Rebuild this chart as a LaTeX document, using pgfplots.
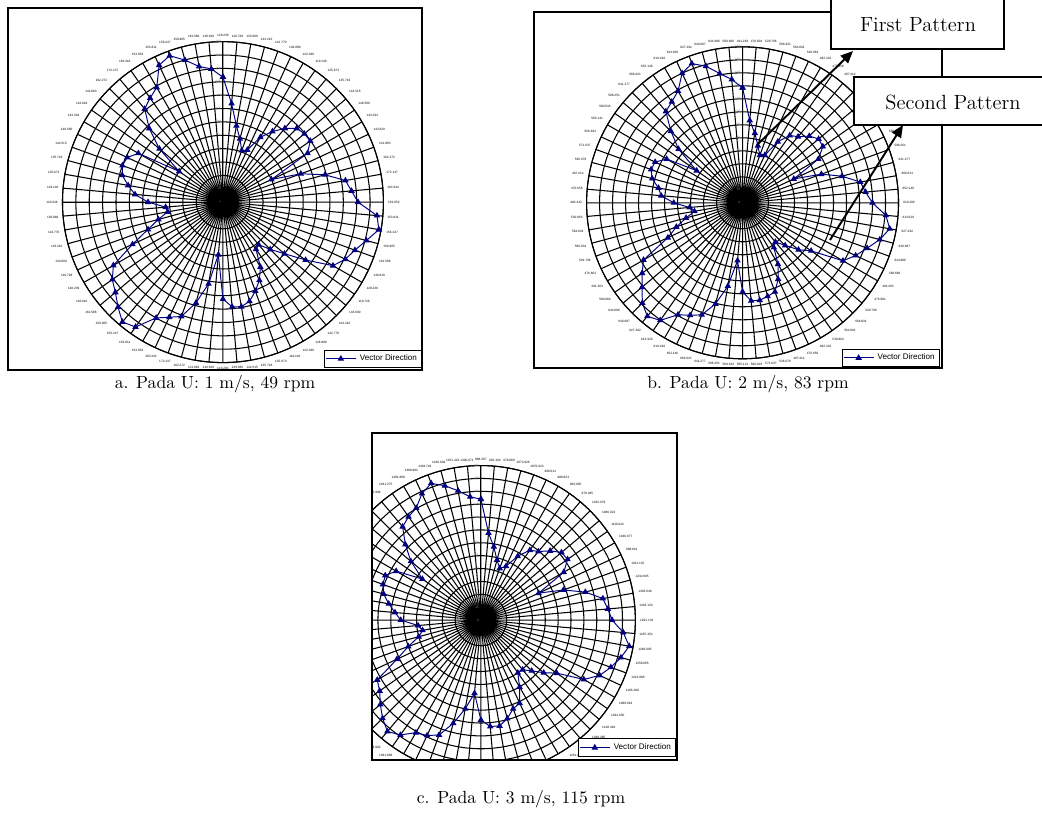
\documentclass[border=0pt]{standalone}
\usepackage{pgfplots}
\pgfplotsset{compat=1.18}
\usepgfplotslibrary{polar}
\usetikzlibrary{arrows.meta}
\usepackage{fontspec}
\newfontfamily\arialfont{Liberation Sans}
\definecolor{navy}{RGB}{0,0,128}
\pgfplotsset{
  radar/.style={
    scale only axis, anchor=center,
    xmin=90, xmax=450, ymin=0, ymax=12,
    xtick={90,95,...,445},
    ytick={0,1,...,12},
    yticklabels={0,15,30,45,60,75,90,105,120,135,150,165,180},
    grid=major,
    major grid style={black, line width=0.6pt},
    axis line style={black, line width=0.6pt},
    major tick length=0pt,
    xticklabel style={font=\arialfont\fontsize{1.8}{2}\selectfont, inner sep=2.5pt},
    yticklabel style={font=\arialfont\fontsize{1.8}{2}\selectfont, gray, inner sep=1pt},
    legend cell align=left,
    legend style={font=\arialfont\fontsize{4.6}{5.5}\selectfont, draw=black, line width=0.5pt,
      inner sep=0.6pt, anchor=south east},
  },
  vd/.style={navy, line width=0.55pt, mark=triangle*, mark size=1.6pt,
    mark options={solid, fill=navy}},
}
\begin{document}
\begin{tikzpicture}[x=0.02cm,y=0.02cm]
\useasboundingbox (0,0) rectangle (1042,819);
% ---------------- chart a ----------------
\begin{polaraxis}[radar, width=6.42cm, height=6.42cm, at={(4.46cm,12.34cm)},
  legend style={at={(1.12,-0.017)}},
  extra x ticks={180}, extra x tick labels={},
  extra x tick style={grid style={gray, line width=1.3pt}},
  xticklabels={128.236,146.610,161.586,159.905,156.247,153.811,154.652,163.344,172.137,162.272,141.863,142.629,143.294,149.580,144.515,135.718,125.673,119.140,122.046,136.889,142.770,143.210,133.609,119.728,
  128.236,146.610,161.586,159.905,156.247,153.811,154.652,163.344,172.137,162.272,141.863,142.629,143.294,149.580,144.515,135.718,125.673,119.140,122.046,136.889,142.770,143.210,133.609,119.728,
  128.236,146.610,161.586,159.905,156.247,153.811,154.652,163.344,172.137,162.272,141.863,142.629,143.294,149.580,144.515,135.718,125.673,119.140,122.046,136.889,142.770,143.210,133.609,119.728}]
\addplot[vd] coordinates {
(90,9.35)(95,10.0)(100,10.3)(105,11.0)(110,11.65)(115,11.3)(120,9.9)(125,9.5)(130,9.1)(135,7.8)(140,6.2)(145,4.0)
(150,7.3)(155,7.9)(160,8.0)(165,7.8)(170,7.2)(175,6.6)(180,5.6)(185,4.3)(190,4.2)(195,5.0)(200,5.96)(205,7.46)
(210,9.46)(215,10.1)(220,10.5)(225,11.1)(230,11.7)(235,11.4)(240,10.0)(245,9.5)(250,9.1)(255,7.8)(260,6.2)(265,3.95)
(270,7.25)(275,7.86)(280,7.94)(285,7.68)(290,7.08)(295,6.45)(300,5.6)(305,4.3)(310,4.15)(315,5.0)(320,6.0)(325,7.55)
(330,9.5)(335,10.1)(340,10.5)(345,11.1)(350,11.84)(355,11.56)(360,10.1)(365,9.65)(370,9.3)(375,7.9)(380,6.2)(385,4.0)
(390,7.3)(395,7.97)(400,7.95)(405,7.8)(410,7.2)(415,6.45)(420,5.6)(425,4.3)(430,4.1)(435,4.9)(440,5.8)(445,7.4)(450,9.35)};
\addlegendentry{Vector Direction}
\end{polaraxis}
\draw[line width=0.7pt] (8,811) rectangle (422,449);
\node[font=\fontsize{10}{12}\selectfont] at (215,435) {a. Pada U: 1 m/s, 49 rpm};
% ---------------- chart b ----------------
\begin{polaraxis}[radar, width=6.24cm, height=6.24cm, at={(14.854cm,12.326cm)},
  legend style={at={(1.132,-0.027)}},
  xticklabels={491.263,580.666,644.686,640.687,627.292,613.929,619.199,652.146,666.021,641.277,596.251,580.543,565.141,560.823,571.637,536.076,497.414,470.656,482.432,530.863,564.691,566.831,529.706,476.801,
  491.263,580.666,644.686,640.687,627.292,613.929,619.199,652.146,666.021,641.277,596.251,580.543,565.141,560.823,571.637,536.076,497.414,470.656,482.432,530.863,564.691,566.831,529.706,476.801,
  491.263,580.666,644.686,640.687,627.292,613.929,619.199,652.146,666.021,641.277,596.251,580.543,565.141,560.823,571.637,536.076,497.414,470.656,482.432,530.863,564.691,566.831,529.706,476.801}]
\addplot[vd] coordinates {
(90,8.85)(95,9.53)(100,10.1)(105,10.88)(110,11.4)(115,11.0)(120,9.93)(125,9.49)(130,9.18)(135,7.8)(140,6.43)(145,4.31)
(150,6.74)(155,7.42)(160,7.49)(165,7.2)(170,6.57)(175,6.29)(180,5.29)(185,4.09)(190,3.76)(195,4.5)(200,5.42)(205,6.34)
(210,8.8)(215,9.43)(220,10.1)(225,10.9)(230,11.4)(235,11.04)(240,9.94)(245,9.55)(250,9.17)(255,8.05)(260,6.5)(265,4.46)
(270,6.84)(275,7.57)(280,7.61)(285,7.45)(290,7.29)(295,6.48)(300,5.45)(305,4.2)(310,3.93)(315,4.63)(320,5.62)(325,6.44)
(330,8.92)(335,9.6)(340,10.2)(345,10.93)(350,11.5)(355,11.07)(360,9.99)(365,9.5)(370,9.2)(375,7.92)(380,6.45)(385,4.35)
(390,6.73)(395,7.54)(400,7.64)(405,7.26)(410,6.64)(415,6.33)(420,5.43)(425,4.05)(430,3.9)(435,4.55)(440,5.44)(445,6.36)(450,8.85)};
\addlegendentry{Vector Direction}
\end{polaraxis}
\draw[line width=0.7pt] (534,807) rectangle (942,451);
\node[font=\fontsize{10}{12}\selectfont] at (748,435) {b. Pada U: 2 m/s, 83 rpm};
% ---------------- chart c (cropped picture) ----------------
\begin{scope}
\clip (372,386) rectangle (677,59);
\begin{polaraxis}[radar, width=6.18cm, height=6.18cm, at={(9.62cm,3.98cm)},
  legend style={at={(1.131,0.057)}},
  xticklabels={988.267,1300.071,1451.423,1426.839,1403.749,1388.992,1381.868,1461.275,1405.996,1405.669,1294.030,1218.484,1288.385,1321.526,1261.071,1198.549,1173.234,1094.696,1079.713,1161.387,1262.968,1268.195,1167.087,1060.295,
  1089.618,1403.633,1405.936,1403.749,1388.992,1381.868,1461.275,1405.996,1405.669,1294.030,1218.484,1288.385,1268.195,1262.968,1161.387,1079.713,1094.696,1173.234,1198.549,1261.071,1321.526,1288.385,1218.484,1294.030,
  1089.618,1166.208,1213.086,1256.665,1266.695,1287.454,1291.133,1326.133,1303.048,1232.605,1011.135,988.619,1040.977,1116.042,1080.922,1032.979,978.285,960.905,988.623,998.012,1076.023,1072.926,978.888,926.160}]
\addplot[vd] coordinates {
(90,9.39)(95,9.61)(100,10.2)(105,10.8)(110,11.3)(115,10.84)(120,10.05)(125,9.8)(130,9.46)(135,8.3)(140,7.1)(145,5.55)
(150,7.6)(155,8.2)(160,8.1)(165,7.82)(170,7.27)(175,6.7)(180,6.23)(185,4.9)(190,4.6)(195,5.0)(200,6.0)(205,7.2)
(210,9.3)(215,9.6)(220,10.2)(225,10.8)(230,11.3)(235,10.9)(240,10.1)(245,9.9)(250,9.5)(255,8.3)(260,7.0)(265,5.71)
(270,7.76)(275,8.3)(280,8.35)(285,7.92)(290,7.33)(295,7.13)(300,6.0)(305,5.0)(310,5.04)(315,5.58)(320,6.37)(325,7.19)
(330,9.23)(335,10.18)(340,10.74)(345,11.26)(350,11.7)(355,11.1)(360,10.19)(365,9.9)(370,9.62)(375,8.4)(380,6.82)(385,4.95)
(390,7.43)(395,8.22)(400,8.17)(405,7.6)(410,6.95)(415,6.63)(420,5.72)(425,4.62)(430,4.27)(435,4.83)(440,5.78)(445,6.79)(450,9.39)};
\addlegendentry{Vector Direction}
\end{polaraxis}
\end{scope}
\draw[line width=0.7pt] (372,386) rectangle (677,59);
\node[font=\fontsize{10}{12}\selectfont] at (521,20) {c. Pada U: 3 m/s, 115 rpm};
% ---------------- pattern boxes ----------------
\draw[line width=1pt, fill=white] (831,830) rectangle (1004,770);
\node[font=\fontsize{11.7}{14}\selectfont] at (918,794) {First Pattern};
\draw[line width=1pt, fill=white] (854,742) rectangle (1050,694);
\node[font=\fontsize{11.7}{14}\selectfont] at (953,717) {Second Pattern};
\draw[line width=1.1pt, -{Triangle[length=7pt,width=6pt]}] (757,674) -- (853,768);
\draw[line width=1.1pt, -{Triangle[length=7pt,width=6pt]}] (830,579) -- (903,694);
\end{tikzpicture}
\end{document}
